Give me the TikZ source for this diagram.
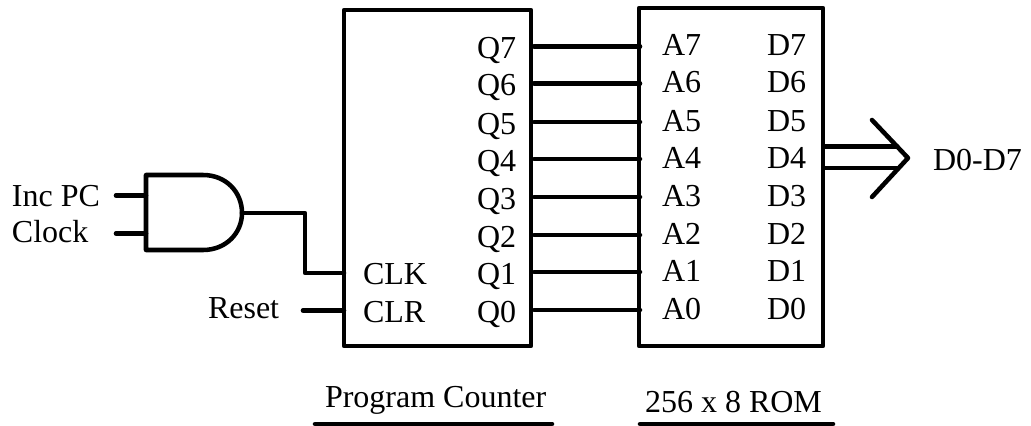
\documentclass[tikz,border=0pt]{standalone}
\usepackage{fontspec}
\setmainfont{Liberation Serif}
\tikzset{
  wire/.style={line width=3.4pt, line cap=round, line join=round},
  boxn/.style={draw, wire, inner sep=0pt, outer sep=0pt, anchor=north west},
  lbl/.style={inner sep=0pt, outer sep=0pt, anchor=base west, font=\fontsize{24}{26}\selectfont, text=black}
}
\begin{document}
\begin{tikzpicture}[x=0.75pt,y=-0.75pt]
\useasboundingbox (0,0) rectangle (1031,425);
\fill[white] (0,0) rectangle (1031,425);
% boxes
\node[boxn, minimum width=187*0.75pt, minimum height=336*0.75pt] (pc) at (344,10) {};
\node[boxn, minimum width=184*0.75pt, minimum height=338*0.75pt] (rom) at (639,8) {};
% rows
\foreach \i/\y in {7/46.5,6/83.5,5/122,4/159,3/197,2/235,1/272,0/310}{
  \node[lbl] (q\i) at (477,\y+12) {Q\i};
  \node[lbl] (a\i) at (662,\y+9) {A\i};
  \node[lbl] (d\i) at (767,\y+9) {D\i};
  \coordinate (qp\i) at (534,\y);
  \coordinate (ap\i) at (640,\y);
  \draw[wire] (qp\i) -- (ap\i);
}
\node[lbl] (clk) at (363,284) {CLK};
\node[lbl] (clr) at (363,322) {CLR};
% AND gate
\coordinate (gnw) at (146,175);
\coordinate (gsw) at (146,250);
\coordinate (gne) at (203,175);
\coordinate (gse) at (203,250);
\coordinate (gout) at (242,213);
\draw[wire] (gne) -- (gnw) -- (gsw) -- (gse)
  .. controls (226,250) and (242,233) .. (gout)
  .. controls (242,192) and (226,175) .. (gne);
% inputs
\node[lbl] (inc) at (12,206) {Inc PC};
\node[lbl] (clock) at (12,242) {Clock};
\node[lbl] (reset) at (208,318) {Reset};
\coordinate (i1) at (116,195.5);
\coordinate (i1e) at (146,195.5);
\coordinate (i2) at (116,233.5);
\coordinate (i2e) at (146,233.5);
\draw[wire] (i1) -- (i1e);
\draw[wire] (i2) -- (i2e);
\coordinate (ck) at (344,273);
\coordinate (bend1) at (305,213);
\coordinate (bend2) at (305,273);
\draw[wire] (gout) -- (bend1) -- (bend2) -- (ck);
\coordinate (rs) at (303,310.5);
\coordinate (rse) at (344,310.5);
\draw[wire] (rs) -- (rse);
% bus
\coordinate (b1) at (824,146.5);
\coordinate (b1e) at (897,146.5);
\coordinate (b2) at (824,168);
\coordinate (b2e) at (897,168);
\coordinate (tip) at (908,158);
\coordinate (w1) at (872,120);
\coordinate (w2) at (872,197);
\draw[wire] (b1) -- (b1e);
\draw[wire] (b2) -- (b2e);
\draw[wire] (w1) -- (tip) -- (w2);
\node[lbl] (bus) at (933,170.5) {D0-D7};
% titles
\node[lbl] (pct) at (325,407) {Program Counter};
\node[lbl] (romt) at (645,412) {256 x 8 ROM};
\coordinate (u1) at (315,424);
\coordinate (u2) at (552,424);
\coordinate (u3) at (640,424);
\coordinate (u4) at (833,424);
\draw[wire] (u1) -- (u2);
\draw[wire] (u3) -- (u4);
\end{tikzpicture}
\end{document}
